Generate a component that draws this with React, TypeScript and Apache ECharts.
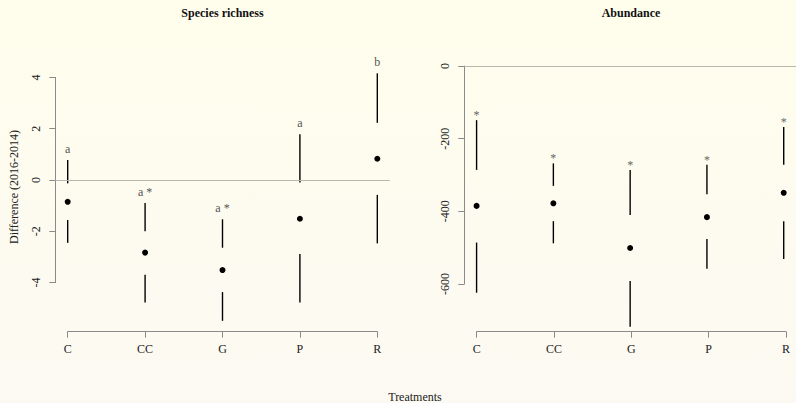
import React, { useEffect, useRef } from "react";
import * as echarts from "echarts";

const categories = ["C", "CC", "G", "P", "R"];

// Species richness (difference 2016-2014)
const richMax = [0.78, -0.9, -1.53, 1.78, 4.16];
const richQ3 = [-0.13, -2.0, -2.64, -0.1, 2.23];
const richMed = [-0.85, -2.83, -3.51, -1.51, 0.83];
const richQ1 = [-1.56, -3.69, -4.37, -2.88, -0.58];
const richMin = [-2.45, -4.78, -5.49, -4.78, -2.47];
const richLabels = ["a", "a *", "a *", "a", "b"];
const richTicks = { min: -4, max: 4, interval: 2 };

// Abundance
const abMax = [-149, -268, -286, -272, -168];
const abQ3 = [-286, -330, -410, -353, -272];
const abMed = [-385, -378, -501, -416, -349];
const abQ1 = [-486, -427, -592, -476, -427];
const abMin = [-624, -488, -718, -558, -531];
const abLabels = ["*", "*", "*", "*", "*"];
const abTicks = { min: -600, max: 0, interval: 200 };

const FONT = "'Liberation Serif', 'DejaVu Serif', serif";
const AXIS = "#8a8a8a";
const ZERO = "#b8b8b0";
const TXT = "#222";

function rows(mx: number[], q3: number[], md: number[], q1: number[], mn: number[]) {
  return categories.map((_, i) => [i + 1, mx[i], q3[i], md[i], q1[i], mn[i]]);
}

function makeRender(labels: string[], labelColor: string, labelOffset: number) {
  return (params: any, api: any) => {
    const x = api.value(0);
    const pMax = api.coord([x, api.value(1)]);
    const pQ3 = api.coord([x, api.value(2)]);
    const pMed = api.coord([x, api.value(3)]);
    const pQ1 = api.coord([x, api.value(4)]);
    const pMin = api.coord([x, api.value(5)]);
    const ls = { stroke: "#000", lineWidth: 1.4 };
    return {
      type: "group",
      children: [
        { type: "line", shape: { x1: pMax[0], y1: pMax[1], x2: pQ3[0], y2: pQ3[1] }, style: ls },
        { type: "line", shape: { x1: pQ1[0], y1: pQ1[1], x2: pMin[0], y2: pMin[1] }, style: ls },
        { type: "circle", shape: { cx: pMed[0], cy: pMed[1], r: 3 }, style: { fill: "#000" } },
        {
          type: "text",
          style: {
            text: labels[params.dataIndex],
            x: pMax[0],
            y: pMax[1] + labelOffset,
            align: "center",
            verticalAlign: "bottom",
            fill: labelColor,
            font: `12px ${FONT}`,
          },
        },
      ],
    };
  };
}

function hiddenAxis(gridIndex: number, extra: any = {}) {
  return { gridIndex, type: "value", show: false, ...extra };
}

function catAxis(gridIndex: number) {
  return {
    gridIndex,
    type: "category",
    data: categories,
    boundaryGap: false,
    axisLine: { show: true, lineStyle: { color: AXIS, width: 1 } },
    axisTick: { show: true, length: 6, alignWithLabel: true, lineStyle: { color: AXIS } },
    axisLabel: { margin: 11, color: TXT, fontFamily: FONT, fontSize: 12 },
    splitLine: { show: false },
  };
}

function valAxis(gridIndex: number, t: { min: number; max: number; interval: number }) {
  return {
    gridIndex,
    type: "value",
    min: t.min,
    max: t.max,
    interval: t.interval,
    axisLine: { show: true, lineStyle: { color: AXIS, width: 1 } },
    axisTick: { show: true, length: 6, lineStyle: { color: AXIS } },
    axisLabel: { rotate: 90, margin: 13, color: TXT, fontFamily: FONT, fontSize: 12 },
    splitLine: { show: false },
  };
}

export default function App() {
  const ref = useRef<HTMLDivElement>(null);
  useEffect(() => {
    document.body.style.margin = "0";
    if (!ref.current) return;
    const chart = echarts.init(ref.current, undefined, { renderer: "svg" });
    const zeroLine = {
      silent: true,
      symbol: "none",
      data: [{ yAxis: 0 }],
      lineStyle: { color: ZERO, type: "solid", width: 1 },
      label: { show: false },
    };
    chart.setOption({
      animation: false,
      backgroundColor: "transparent",
      grid: [
        { left: 55.3, top: 54.5, width: 334.4, height: 277.2 },
        { left: 55.3, top: 77.4, width: 334.4, height: 205.2 },
        { left: 67.7, top: 54.5, width: 309.6, height: 277.2 },
        { left: 464.3, top: 54.5, width: 334.1, height: 277.2 },
        { left: 464.3, top: 66, width: 334.1, height: 218 },
        { left: 476.7, top: 54.5, width: 309.3, height: 277.2 },
      ],
      xAxis: [
        hiddenAxis(0, { min: 0.84, max: 5.16 }),
        hiddenAxis(1),
        catAxis(2),
        hiddenAxis(3, { min: 0.84, max: 5.16 }),
        hiddenAxis(4),
        catAxis(5),
      ],
      yAxis: [
        hiddenAxis(0, { min: -5.914, max: 4.894 }),
        valAxis(1, richTicks),
        hiddenAxis(2),
        hiddenAxis(3, { min: -731.3, max: 31.65 }),
        valAxis(4, abTicks),
        hiddenAxis(5),
      ],
      graphic: [
        {
          type: "text",
          x: 222.5,
          y: 13,
          style: { text: "Species richness", align: "center", verticalAlign: "middle", font: `bold 12px ${FONT}`, fill: "#111" },
        },
        {
          type: "text",
          x: 631,
          y: 13,
          style: { text: "Abundance", align: "center", verticalAlign: "middle", font: `bold 12px ${FONT}`, fill: "#111" },
        },
        {
          type: "text",
          x: 14,
          y: 187,
          rotation: Math.PI / 2,
          style: { text: "Difference (2016-2014)", align: "center", verticalAlign: "middle", font: `12px ${FONT}`, fill: TXT },
        },
        {
          type: "text",
          x: 415,
          y: 397,
          style: { text: "Treatments", align: "center", verticalAlign: "middle", font: `12px ${FONT}`, fill: TXT },
        },
      ],
      series: [
        {
          type: "custom",
          xAxisIndex: 0,
          yAxisIndex: 0,
          data: rows(richMax, richQ3, richMed, richQ1, richMin),
          renderItem: makeRender(richLabels, "#555", -5),
          markLine: zeroLine,
          z: 3,
        },
        {
          type: "custom",
          xAxisIndex: 3,
          yAxisIndex: 3,
          data: rows(abMax, abQ3, abMed, abQ1, abMin),
          renderItem: makeRender(abLabels, "#666", 1),
          markLine: zeroLine,
          z: 3,
        },
      ],
    });
    return () => chart.dispose();
  }, []);
  return (
    <div
      ref={ref}
      style={{
        width: 796,
        height: 403,
        background: "linear-gradient(to bottom, #fffeec 0%, #fdfbf0 60%, #fcf9f2 100%)",
      }}
    />
  );
}
